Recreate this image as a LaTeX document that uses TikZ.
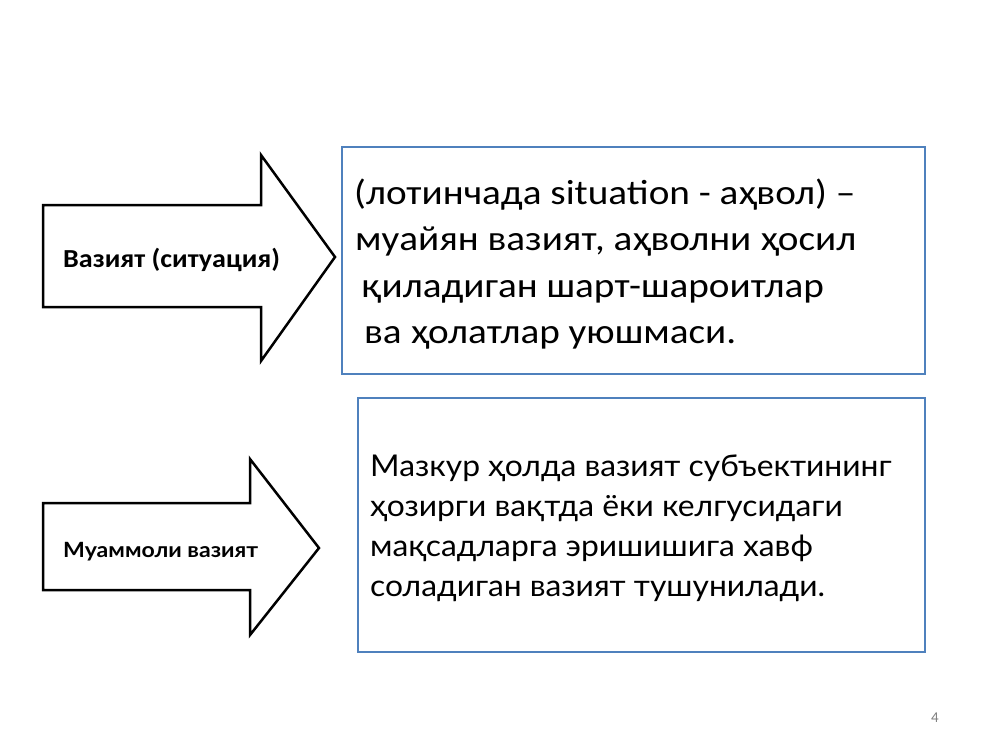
\documentclass[tikz,border=0pt]{standalone}
\usepackage{graphicx}
\usepackage{fontspec}
\setmainfont{Carlito}
\newfontfamily\latofont{Lato}
\newcommand{\hstretch}[2]{\scalebox{#1}[1]{#2}}
\begin{document}
\begin{tikzpicture}[x=1pt,y=-1pt,
  arrowshape/.style={draw=black, line width=2.5pt, line join=miter, fill=white},
  infobox/.style={draw=boxblue, line width=2pt, fill=white},
  txt/.style={anchor=base west, inner sep=0pt, text=black},
  boxone/.style={txt, font=\fontsize{35}{42}\selectfont},
  boxtwo/.style={txt, font=\latofont\fontsize{30}{36}\selectfont}]
\definecolor{boxblue}{HTML}{4F81BD}
\useasboundingbox (0,0) rectangle (1000,750);
\fill[white] (0,0) rectangle (1000,750);
% arrow 1
\draw[arrowshape] (43,205) -- (261,205) -- (261,155) -- (335,257) -- (261,361) -- (261,307) -- (43,307) -- cycle;
\node[txt, font=\fontsize{26}{30}\selectfont\bfseries] (a1) at (63,267) {\hstretch{1.08}{Вазият (ситуация)}};
% arrow 2
\draw[arrowshape] (43,503) -- (250,503) -- (250,459) -- (319,548) -- (250,635) -- (250,590) -- (43,590) -- cycle;
\node[txt, font=\latofont\fontsize{21}{25}\selectfont\bfseries] (a2) at (63,557) {\hstretch{1.1}{Муаммоли вазият}};
% box 1
\draw[infobox] (342,147) rectangle (925,374);
\node[boxone] (b1l1) at (354,204) {\hstretch{1.12}{(лотинчада situation - аҳвол) –}};
\node[boxone] (b1l2) at (355,250) {\hstretch{1.12}{муайян вазият, аҳволни ҳосил}};
\node[boxone] (b1l3) at (362,297) {\hstretch{1.12}{қиладиган шарт-шароитлар}};
\node[boxone] (b1l4) at (364,343) {\hstretch{1.12}{ва ҳолатлар уюшмаси.}};
% box 2
\draw[infobox] (358,398) rectangle (925,652);
\node[boxtwo] (b2l1) at (370,476) {\hstretch{1.06}{Мазкур ҳолда вазият субъектининг}};
\node[boxtwo] (b2l2) at (370,516) {\hstretch{1.06}{ҳозирги вақтда ёки келгусидаги}};
\node[boxtwo] (b2l3) at (370,556) {\hstretch{1.06}{мақсадларга эришишига хавф}};
\node[boxtwo] (b2l4) at (370,596) {\hstretch{1.06}{соладиган вазият тушунилади.}};
% page number
\node[txt, font=\fontsize{15}{18}\selectfont, text=gray] (pg) at (931,722) {4};
\end{tikzpicture}
\end{document}
